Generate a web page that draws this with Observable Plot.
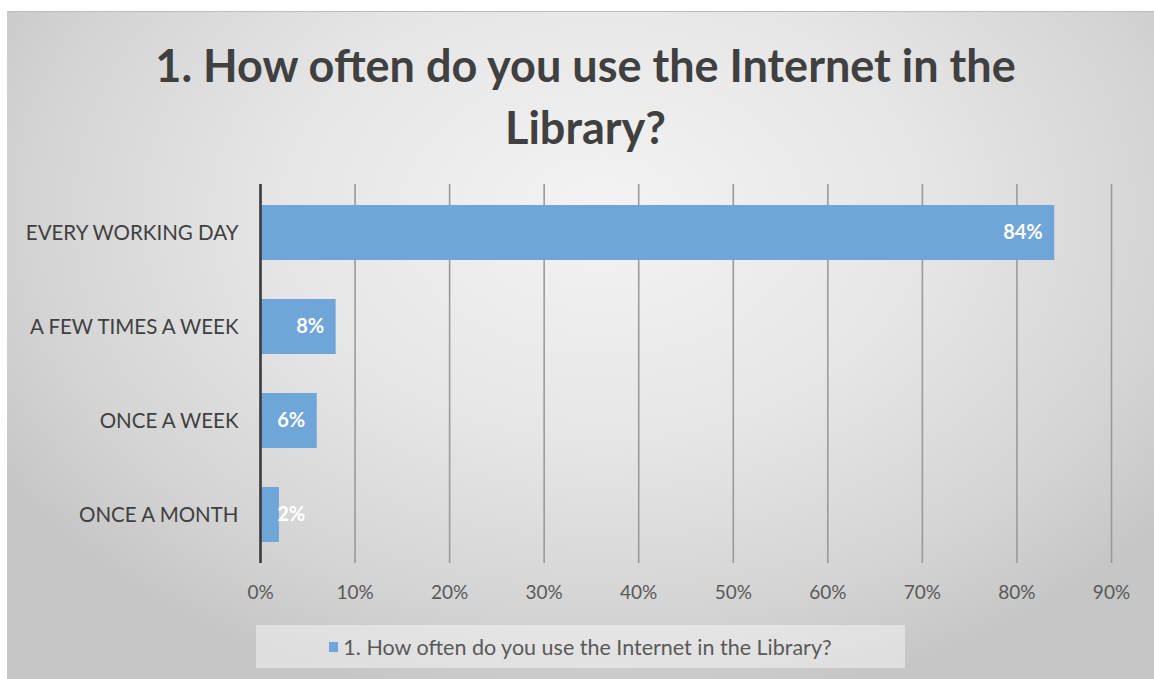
<!DOCTYPE html>
<html>
<head>
<meta charset="utf-8">
<script src="https://cdn.jsdelivr.net/npm/d3@7"></script>
<script src="https://cdn.jsdelivr.net/npm/@observablehq/plot@0.6"></script>
<style>
  html, body { margin: 0; padding: 0; background: #ffffff; }
  body { width: 1154px; height: 679px; position: relative; overflow: hidden; }
  #frame {
    position: absolute; left: 7px; top: 11px; width: 1147px; height: 668px;
    border-top: 1px solid #bdbdbd;
    background: radial-gradient(ellipse 62% 75% at 52% 30%, #f3f3f3 0%, #e6e6e6 45%, #d4d4d4 80%, #c6c6c6 100%);
    font-family: Lato, "Open Sans", sans-serif;
  }
  #title {
    position: absolute; left: 0; top: 22px; width: 1147px; padding-left: 10px; box-sizing: border-box;
    text-align: center; font-weight: 700; font-size: 45px; line-height: 62px; color: #404040;
  }
  #chart { position: absolute; left: 0; top: 140px; }
  #legend {
    position: absolute; left: 249px; top: 613px; width: 649px; height: 43px;
    background: rgba(255,255,255,0.42);
    display: flex; align-items: center; justify-content: center;
    font-size: 21.5px; color: #595959;
  }
  #legend .sw { width: 9px; height: 10px; background: #6fa5d8; margin-right: 5px; }
</style>
</head>
<body>
<div id="frame">
  <div id="title"></div>
  <div id="chart"></div>
  <div id="legend"><span class="sw"></span><span id="legtext"></span></div>
</div>
<script>
const titleText = "1. How often do you use the Internet in the Library?";
const categories = ["EVERY WORKING DAY", "A FEW TIMES A WEEK", "ONCE A WEEK", "ONCE A MONTH"];
const values = [0.84, 0.08, 0.06, 0.02];
const xTicks = [0, 0.1, 0.2, 0.3, 0.4, 0.5, 0.6, 0.7, 0.8, 0.9];
const barColor = "#6fa5d8";

document.getElementById("title").innerHTML = "1. How often do you use the Internet in the<br>Library?";
document.getElementById("legtext").textContent = titleText;

const data = categories.map((c, i) => ({category: c, value: values[i]}));
const pct = d3.format(".0%");

const chart = Plot.plot({
  width: 1147,
  height: 461,
  marginLeft: 253,
  marginRight: 43,
  marginTop: 32,
  marginBottom: 50,
  style: {background: "transparent", fontFamily: "Lato, 'Open Sans', sans-serif", overflow: "visible"},
  x: {domain: [0, 0.9], ticks: xTicks, tickFormat: pct, label: null},
  y: {domain: categories, paddingInner: 0.41, paddingOuter: 0.205, label: null},
  marks: [
    Plot.ruleX(xTicks.filter(t => t > 0), {stroke: "#9a9a9a", strokeWidth: 1.6}),
    Plot.barX(data, {x: "value", y: "category", fill: barColor}),
    Plot.ruleX([0], {stroke: "#3a3a3a", strokeWidth: 2.6}),
    Plot.text(data, {
      x: d => Math.max(d.value, 0.06), y: "category", text: d => pct(d.value),
      textAnchor: "end", dx: -12, fill: "white", fontWeight: 700, fontSize: 20
    }),
    Plot.axisX({ticks: xTicks, tickFormat: pct, tickSize: 0, tickPadding: 22, fontSize: 19, color: "#595959", label: null}),
    Plot.axisY({tickSize: 0, tickPadding: 22, fontSize: 20.5, color: "#404040", label: null})
  ]
});
document.getElementById("chart").appendChild(chart);
</script>
</body>
</html>
